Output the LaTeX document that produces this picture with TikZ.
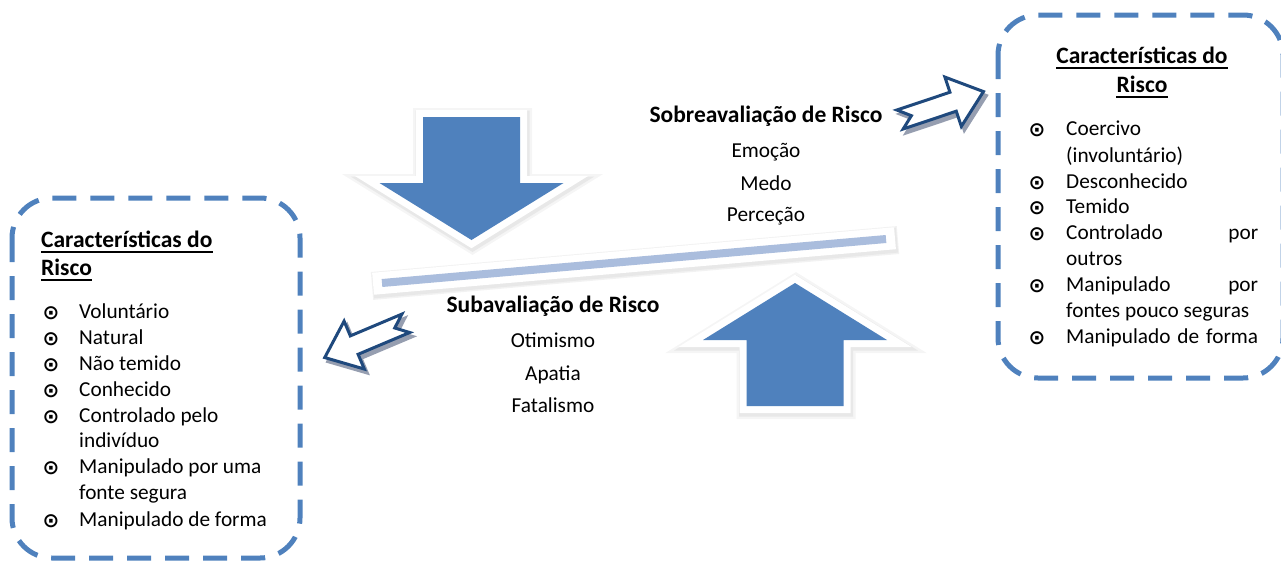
\documentclass[tikz,border=0pt]{standalone}
\usepackage{fontspec}
\setmainfont{Carlito}
\newfontfamily\bulletfont{DejaVu Sans}
\usetikzlibrary{calc}

\definecolor{boxblue}{RGB}{79,129,189}
\definecolor{darkblue}{RGB}{31,73,125}
\definecolor{barblue}{RGB}{170,189,221}
\definecolor{shadowgray}{RGB}{150,158,176}

\tikzset{
  txt/.style={font=\fontsize{21.3}{26}\selectfont, inner sep=0pt, text height=15pt, text depth=5pt},
  itemtxt/.style={txt, anchor=west},
  titletxt/.style={txt, font=\fontsize{23.5}{28}\selectfont\bfseries},
  bulletmark/.style={inner sep=0pt, font=\fontsize{20}{20}\selectfont\bulletfont\bfseries},
  dashbox/.style={draw=boxblue, line width=5, dash pattern=on 24pt off 14pt, rounded corners=40},
  bigarrow/.style={insert path={(-48.5,0) -- (48.5,0) -- (48.5,66) -- (92,66) -- (0,123) -- (-92,66) -- (-48.5,66) -- cycle}},
  smallarrow/.style={insert path={(0,-10) -- (56,-10) -- (56,-26) -- (88,0) -- (56,26) -- (56,10) -- (0,10) -- (12,0) -- cycle}}
}

\begin{document}
\begin{tikzpicture}[x=1pt, y=-1pt]
  \useasboundingbox (0,0) rectangle (1281,560);

  % Dashed boxes
  \draw[dashbox] (12,198) rectangle (300,558);
  \draw[dashbox] (998,15) rectangle (1283,378);

  % Balance bar
  \coordinate (b1) at (382,283);
  \coordinate (b2) at (886,239);
  \draw[black!5, line width=28] ($(b1)!-11pt!(b2)+(1,2)$) -- ($(b2)!-11pt!(b1)+(1,2)$);
  \draw[black!9, line width=25] ($(b1)!-10pt!(b2)+(1,2)$) -- ($(b2)!-10pt!(b1)+(1,2)$);
  \draw[white, line width=22] ($(b1)!-9pt!(b2)$) -- ($(b2)!-9pt!(b1)$);
  \draw[barblue, line width=8] (b1) -- (b2);

  % Big arrows (down, up)
  \foreach \ax/\ay/\ang in {471.5/117/0, 795/406/180} {
    \path[draw=black!4, fill=black!4, line width=22, shift={(\ax+1,\ay+2)}, rotate=\ang, bigarrow];
    \path[draw=black!9, fill=black!9, line width=17, shift={(\ax+1,\ay+2)}, rotate=\ang, bigarrow];
    \path[draw=white, fill=white, line width=14, shift={(\ax,\ay)}, rotate=\ang, bigarrow];
    \path[fill=boxblue, shift={(\ax,\ay)}, rotate=\ang, bigarrow];
  }

  % Small hollow arrows
  \foreach \sx/\sy/\ang in {900/119.5/18.5, 405.8/323.3/202.9} {
    \path[draw=shadowgray, fill=shadowgray, line width=3, shift={(\sx+3,\sy+4)}, rotate=\ang, smallarrow];
    \path[draw=darkblue, fill=white, line width=3, shift={(\sx,\sy)}, rotate=\ang, smallarrow];
  }

  % Middle labels
  \node[titletxt] (sobre) at (766,117) {Sobreavaliação de Risco};
  \node[txt] (emocao) at (766,152) {Emoção};
  \node[txt] (medo) at (766,185) {Medo};
  \node[txt] (percecao) at (766,216) {Perceção};
  \node[titletxt] (sub) at (553,307) {Subavaliação de Risco};
  \node[txt] (otimismo) at (553,342) {Otimismo};
  \node[txt] (apatia) at (553,375) {Apatia};
  \node[txt] (fatalismo) at (553,407) {Fatalismo};

  % Left box
  \node[titletxt, anchor=west] (ltitle1) at (41,242) {Características do};
  \node[titletxt, anchor=west] (ltitle2) at (41,270) {Risco};
  \foreach \y/\t [count=\i] in {313/Voluntário, 339/Natural, 365/Não temido, 391/Conhecido,
      417/Controlado pelo, 442/indivíduo, 468/Manipulado por uma, 494/fonte segura, 521/Manipulado de forma}
    \node[itemtxt] (litem\i) at (79,\y) {\t};
  \foreach \y [count=\i] in {313,339,365,391,417,468,521}
    \node[bulletmark] (lbullet\i) at (51,\y) {⊙};

  % Right box
  \node[titletxt] (rtitle1) at (1142,58) {Características do};
  \node[titletxt] (rtitle2) at (1142,87) {Risco};
  \foreach \y/\t [count=\i] in {130/Coercivo, 157/(involuntário), 183/Desconhecido, 208/Temido,
      234/{\hbox to 192pt{Controlado\hfill por}}, 260/outros,
      286/{\hbox to 192pt{Manipulado\hfill por}}, 312/fontes pouco seguras,
      338/{\hbox to 192pt{Manipulado\hfill de\hfill forma}}}
    \node[itemtxt] (ritem\i) at (1066,\y) {\t};
  \foreach \y [count=\i] in {130,183,208,234,286,338}
    \node[bulletmark] (rbullet\i) at (1037,\y) {⊙};

  % Underlines of the titles
  \foreach \n in {ltitle1, ltitle2, rtitle1, rtitle2}
    \draw[line width=2] ($(\n.base west)+(0,4.5)$) -- ($(\n.base east)+(0,4.5)$);
\end{tikzpicture}
\end{document}
